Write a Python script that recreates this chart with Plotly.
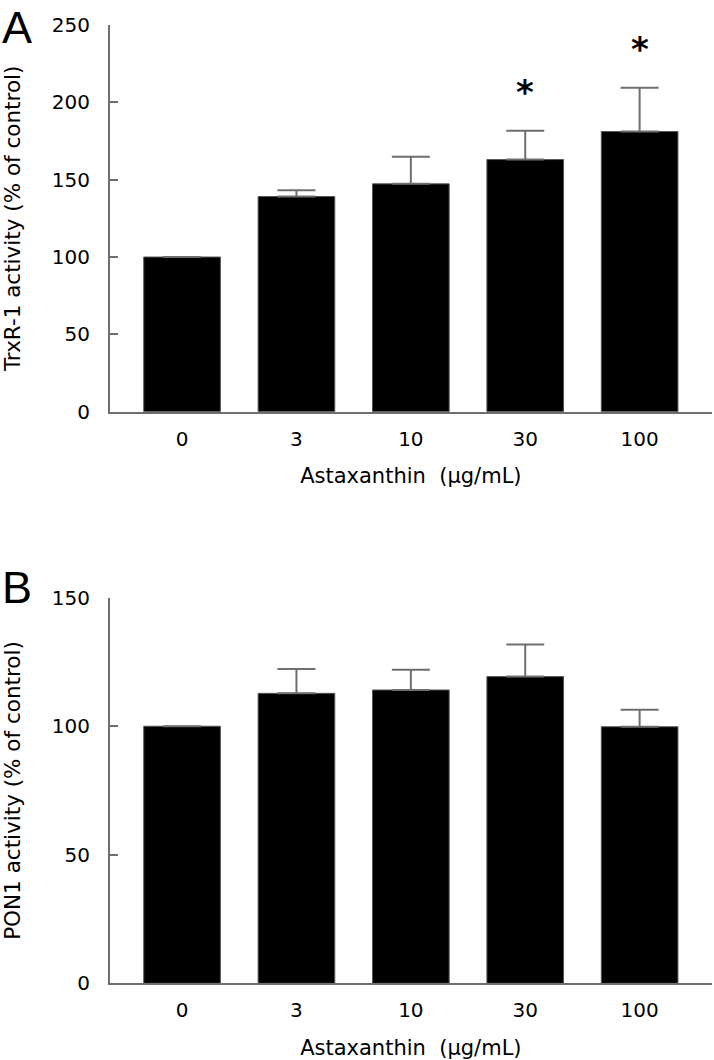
import plotly.graph_objects as go
from plotly.subplots import make_subplots

categories = ["0", "3", "10", "30", "100"]
trxr_mean = [100, 139.1, 147.3, 163.0, 181.1]
trxr_err = [0, 4.1, 17.5, 18.6, 28.3]
trxr_sig = ["", "", "", "*", "*"]
pon1_mean = [100, 112.8, 114.1, 119.3, 99.8]
pon1_err = [0, 9.5, 7.9, 12.5, 6.6]

FONT = "DejaVu Sans"
AXC = "#6e6e6e"
W, H = 714, 1060

fig = make_subplots(rows=2, cols=1)

def add_bars(mean, err, row):
    fig.add_trace(go.Bar(
        x=categories, y=mean, width=0.67,
        marker=dict(color="black", line=dict(color="#555555", width=1)),
        error_y=dict(type="data", array=err, arrayminus=[0]*len(err), symmetric=False,
                     color=AXC, thickness=2, width=19),
        showlegend=False), row=row, col=1)

add_bars(trxr_mean, trxr_err, 1)
add_bars(pon1_mean, pon1_err, 2)

for i, (m, e, s) in enumerate(zip(trxr_mean, trxr_err, trxr_sig)):
    if s:
        fig.add_annotation(x=i, y=m + e, text="<b>" + s + "</b>", showarrow=False, xref="x", yref="y",
                           yanchor="middle", yshift=39,
                           font=dict(family=FONT, size=34, color="black"))

common_x = dict(type="category", range=[-0.63, 4.63], showline=True, linecolor=AXC, linewidth=2,
                ticks="", tickfont=dict(family=FONT, size=20, color="black"),
                ticklabelstandoff=8, automargin=False,
                title=dict(text="Astaxanthin  (µg/mL)", font=dict(family=FONT, size=21, color="black"), standoff=19),
                showgrid=False, zeroline=False)
fig.update_xaxes(**common_x, domain=[110/W, 711.7/W])

fig.update_yaxes(showline=True, linecolor=AXC, linewidth=2, ticks="inside", ticklen=8, tickwidth=2,
                 tickcolor=AXC, tickfont=dict(family=FONT, size=20, color="black"),
                 ticklabelstandoff=14, showgrid=False, zeroline=False, automargin=False)
fig.update_yaxes(range=[0, 250], dtick=50, domain=[1 - 411.7/H, 1 - 25/H],
                 title=dict(text="TrxR-1 activity (% of control)", font=dict(family=FONT, size=21.5, color="black"), standoff=25),
                 row=1, col=1)
fig.update_yaxes(range=[0, 150], dtick=50, domain=[1 - 983.3/H, 1 - 597.7/H],
                 title=dict(text="PON1 activity (% of control)", font=dict(family=FONT, size=21.5, color="black"), standoff=25),
                 row=2, col=1)

fig.add_annotation(x=0, y=1, xref="paper", yref="paper", xanchor="left", yanchor="top",
                   text="A", showarrow=False,
                   font=dict(family="Liberation Sans", size=45, color="black"))
fig.add_annotation(x=0, y=1 - 560/H, xref="paper", yref="paper", xanchor="left", yanchor="top",
                   text="B", showarrow=False,
                   font=dict(family="Liberation Sans", size=45, color="black"))

fig.update_layout(width=W, height=H, margin=dict(l=0, r=0, t=0, b=0),
                  plot_bgcolor="white", paper_bgcolor="white", bargap=0.33)
fig.write_html("out.html", config={"displayModeBar": False},
               post_script="document.body.style.margin='0';")
